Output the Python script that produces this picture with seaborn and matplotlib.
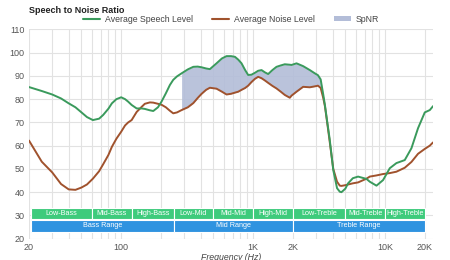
import matplotlib
matplotlib.use("Agg")
import matplotlib.pyplot as plt
import matplotlib.ticker as mticker
from matplotlib.patches import Patch
from matplotlib.lines import Line2D
import numpy as np
import seaborn as sns

# Data (frequency in Hz, level in dB)
freq = [20, 25, 30, 35, 40, 45, 50, 55, 61, 68, 73, 80, 85, 92, 100, 107, 113,
        120, 131, 143, 151, 165, 175, 190, 202, 218, 234, 248, 265, 287, 320,
        352, 380, 407, 440, 470, 528, 580, 629, 680, 728, 771, 817, 870, 917,
        970, 1030, 1092, 1158, 1230, 1300, 1400, 1504, 1620, 1738, 1897, 1954,
        2133, 2393, 2690, 2936, 3100, 3250, 3400, 3500, 3650, 3800, 4050, 4326,
        4539, 4673, 5000, 5245, 5700, 6247, 7230, 7660, 8610, 9660, 10860,
        12190, 14100, 15850, 17780, 20000, 21830, 23120]
speech = [85.2, 83.5, 82.0, 80.3, 78.2, 76.5, 74.3, 72.3, 71.0, 71.6, 73.2,
          75.9, 78.2, 80.0, 80.8, 80.0, 78.9, 77.5, 76.0, 76.0, 75.8, 75.2,
          74.9, 76.5, 78.9, 82.5, 86.1, 88.3, 89.8, 91.1, 92.8, 93.9, 94.0,
          93.7, 93.2, 92.9, 95.4, 97.5, 98.5, 98.5, 98.2, 97.0, 95.4, 92.5,
          90.4, 90.5, 91.3, 92.2, 92.5, 91.5, 90.8, 92.5, 93.9, 94.5, 95.0,
          94.8, 94.7, 95.4, 94.2, 92.5, 91.1, 90.3, 88.5, 82.0, 77.5, 70.0,
          63.0, 49.5, 41.7, 40.2, 40.0, 41.5, 43.8, 46.0, 46.7, 45.7, 44.5,
          42.8, 45.2, 50.3, 52.5, 53.8, 58.9, 67.5, 74.3, 75.3, 77.0]
noise = [62.2, 53.1, 48.5, 43.5, 41.2, 41.0, 42.0, 43.3, 45.8, 49.0, 52.0,
         56.0, 59.5, 63.0, 66.0, 68.7, 70.0, 71.0, 74.5, 76.7, 78.0, 78.6,
         78.5, 78.0, 77.6, 76.5, 75.0, 73.9, 74.3, 75.3, 76.5, 78.3, 80.5,
         82.3, 84.0, 84.9, 84.5, 83.2, 82.0, 82.3, 82.8, 83.2, 84.0, 84.8,
         85.8, 87.3, 88.7, 89.6, 89.0, 88.0, 87.0, 85.7, 84.6, 83.2, 81.8,
         80.6, 81.5, 83.2, 85.3, 85.1, 85.5, 85.8, 84.8, 80.5, 77.0, 69.5,
         62.0, 50.0, 44.5, 42.8, 42.7, 43.0, 43.3, 43.8, 44.2, 45.8, 46.7,
         47.2, 47.8, 48.2, 48.8, 50.5, 53.0, 56.5, 58.6, 60.0, 61.4]

band_names = ["Low-Bass", "Mid-Bass", "High-Bass", "Low-Mid", "Mid-Mid",
              "High-Mid", "Low-Treble", "Mid-Treble", "High-Treble"]
band_edges = [20.7, 60, 120, 250, 500, 1000, 2000, 5000, 10000, 20000]
range_names = ["Bass Range", "Mid Range", "Treble Range"]
range_edges = [20.7, 250, 2000, 20000]

xtick_vals = [20, 100, 1000, 2000, 10000, 20000]
xtick_labels = ["20", "100", "1K", "2K", "10K", "20K"]

GREEN = "#3a9a5c"
BROWN = "#a0522d"
FILL = "#b3bdd8"
BOX_GREEN = "#3ecb7c"
BOX_BLUE = "#2f93e0"

sns.set_style("white")
plt.rcParams['font.family'] = ['Liberation Sans', 'DejaVu Sans']

fig = plt.figure(figsize=(4.5, 2.6), dpi=100)
ax = fig.add_axes([0.0644, 0.082, 0.898, 0.805])

f = np.array(freq)
s = np.array(speech)
n = np.array(noise)
mask = (f >= 287) & (f <= 3500)
ax.fill_between(f, n, s, where=mask, color=FILL, alpha=0.9, linewidth=0, zorder=2)

sns.lineplot(x=f, y=n, ax=ax, color=BROWN, linewidth=1.4, zorder=3)
sns.lineplot(x=f, y=s, ax=ax, color=GREEN, linewidth=1.4, zorder=4)

# band boxes
for i, name in enumerate(band_names):
    lo, hi = band_edges[i], band_edges[i + 1]
    ax.bar(lo, 4.7, width=hi - lo, bottom=28.6, align="edge", color=BOX_GREEN,
           edgecolor="white", linewidth=0.8, zorder=5)
    ax.text(np.sqrt(lo * hi), 30.95, name, ha="center", va="center",
            color="white", fontsize=5.2, zorder=6)
for i, name in enumerate(range_names):
    lo, hi = range_edges[i], range_edges[i + 1]
    ax.bar(lo, 5.0, width=hi - lo, bottom=23.0, align="edge", color=BOX_BLUE,
           edgecolor="white", linewidth=0.8, zorder=5)
    ax.text(np.sqrt(lo * hi), 25.5, name, ha="center", va="center",
            color="white", fontsize=5.2, zorder=6)

ax.set_xscale("log")
ax.set_xlim(20, 23120)
ax.set_ylim(20, 110)
ax.set_yticks(range(20, 111, 10))
ax.xaxis.set_major_locator(mticker.FixedLocator(xtick_vals))
ax.xaxis.set_major_formatter(mticker.FixedFormatter(xtick_labels))
ax.xaxis.set_minor_locator(mticker.LogLocator(base=10, subs=np.arange(2, 10)))
ax.xaxis.set_minor_formatter(mticker.NullFormatter())
ax.grid(True, which="both", axis="x", color="#e2e2e2", linewidth=0.8)
ax.grid(True, which="major", axis="y", color="#e2e2e2", linewidth=0.8)
ax.set_axisbelow(True)
ax.tick_params(axis="both", which="both", length=0, labelsize=6.5,
               labelcolor="#555555", pad=3)
for sp in ax.spines.values():
    sp.set_visible(False)

ax.set_xlabel("Frequency (Hz)", fontsize=6.3, style="italic", color="#444444",
              labelpad=0.5)
ax.set_ylabel("")

fig.text(0.0644, 0.958, "Speech to Noise Ratio", fontsize=6.5,
         fontweight="bold", ha="left", va="center", color="#222222")

handles = [Line2D([0], [0], color=GREEN, linewidth=1.5),
           Line2D([0], [0], color=BROWN, linewidth=1.5),
           Patch(facecolor=FILL, edgecolor="none")]
leg = fig.legend(handles, ["Average Speech Level", "Average Noise Level", "SpNR"],
                 loc="center", bbox_to_anchor=(0.513, 0.925), ncol=3,
                 frameon=False, fontsize=6.3, handlelength=2.0,
                 handleheight=0.5, columnspacing=2.2, handletextpad=0.5,
                 labelcolor="#444444")

fig.savefig("out.png", dpi=100)
